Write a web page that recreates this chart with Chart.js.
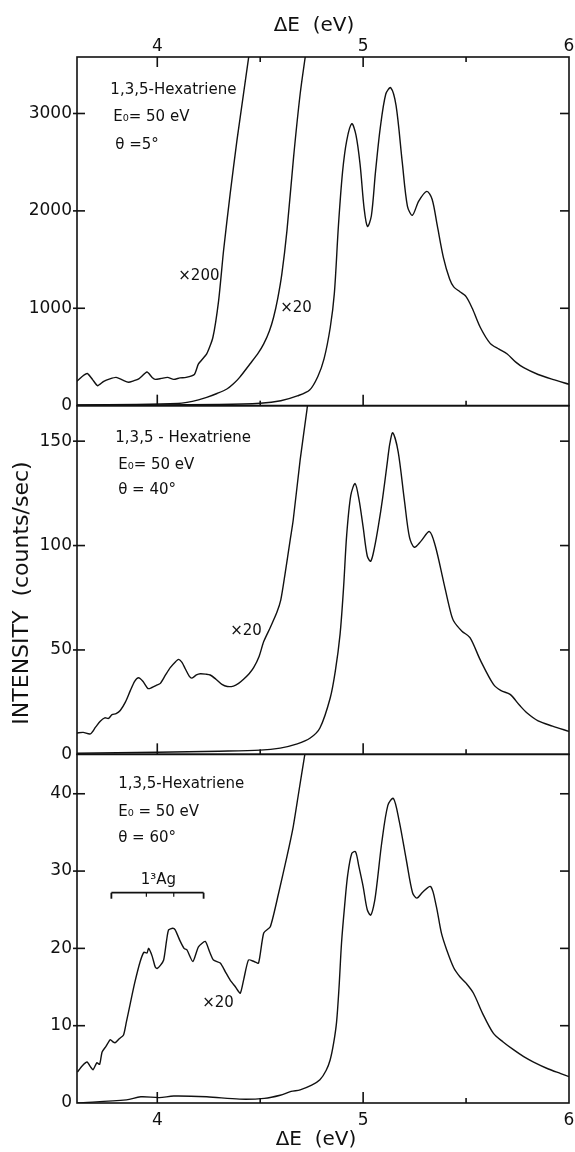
<!DOCTYPE html>
<html><head><meta charset="utf-8">
<script src="https://cdn.jsdelivr.net/npm/chart.js@4/dist/chart.umd.min.js"></script>
<style>html,body{margin:0;padding:0;background:#fff}canvas{display:block}</style>
</head><body>
<canvas id="c" width="575" height="1152"></canvas>
<script>
// ---------- data (energy loss in eV, intensity in counts/sec) ----------
const xMin = 3.61, xMax = 6.0;
const xTickValues = [4, 4.5, 5, 5.5, 6];
const xTickLabels = ['4', '', '5', '', '6'];
const majorTickE = [4, 5];
const minorTickE = [4.5, 5.5];

// top panel: theta = 5 deg
const topMax = 3580;
const topYTicks = [0, 1000, 2000, 3000];
const topMainE = [3.61, 4.0, 4.3, 4.5, 4.6, 4.68, 4.74, 4.78, 4.81, 4.84, 4.86, 4.88, 4.90, 4.92, 4.945, 4.965, 4.985, 5.005, 5.021, 5.04, 5.06, 5.083, 5.11, 5.134, 5.16, 5.19, 5.215, 5.239, 5.27, 5.309, 5.335, 5.36, 5.39, 5.42, 5.44, 5.47, 5.50, 5.53, 5.57, 5.617, 5.66, 5.70, 5.74, 5.78, 5.85, 5.92, 6.0];
const topMainI = [5, 8, 12, 25, 50, 100, 160, 300, 480, 800, 1150, 1850, 2400, 2720, 2895, 2780, 2480, 2020, 1840, 1950, 2400, 2850, 3200, 3265, 3080, 2500, 2050, 1955, 2100, 2200, 2120, 1850, 1520, 1300, 1220, 1170, 1120, 1000, 800, 640, 580, 530, 450, 390, 320, 270, 220];
const topX20E = [3.61, 3.9, 4.1, 4.144, 4.2, 4.24, 4.29, 4.338, 4.37, 4.40, 4.45, 4.49, 4.517, 4.545, 4.565, 4.585, 4.605, 4.63, 4.662, 4.694, 4.72, 4.74];
const topX20I = [8, 12, 22, 34, 60, 85, 125, 171, 225, 291, 428, 540, 634, 770, 908, 1100, 1350, 1800, 2550, 3200, 3600, 3900];
const topX200E = [3.61, 3.635, 3.66, 3.685, 3.71, 3.74, 3.77, 3.80, 3.83, 3.86, 3.885, 3.91, 3.95, 3.975, 3.99, 4.02, 4.05, 4.08, 4.11, 4.14, 4.18, 4.20, 4.24, 4.27, 4.298, 4.322, 4.354, 4.387, 4.419, 4.443, 4.46];
const topX200I = [250, 300, 330, 270, 205, 250, 275, 290, 265, 240, 255, 275, 345, 290, 270, 280, 290, 270, 285, 290, 320, 428, 531, 700, 1079, 1593, 2175, 2724, 3203, 3563, 3800];

// middle panel: theta = 40 deg
const midMax = 167;
const midYTicks = [0, 50, 100, 150];
const midMainE = [3.61, 4.0, 4.3, 4.5, 4.597, 4.68, 4.743, 4.79, 4.84, 4.865, 4.888, 4.905, 4.92, 4.94, 4.961, 4.98, 5.0, 5.02, 5.037, 5.055, 5.075, 5.095, 5.115, 5.13, 5.144, 5.17, 5.2, 5.225, 5.249, 5.28, 5.322, 5.35, 5.39, 5.42, 5.439, 5.48, 5.519, 5.57, 5.633, 5.67, 5.714, 5.76, 5.795, 5.85, 5.92, 6.0];
const midMainI = [0.5, 1, 1.5, 2, 3, 5, 7.8, 12.6, 27, 40, 57.6, 80, 105, 124, 129.7, 122, 108.8, 95, 92.5, 99, 110, 123, 138, 149, 154, 145, 122, 104, 99.2, 102, 106.7, 100, 83, 70, 64, 59, 55.9, 45, 33.5, 30.5, 28.7, 23.5, 19.9, 16, 13.5, 11];
const midX20E = [3.61, 3.64, 3.675, 3.70, 3.723, 3.745, 3.763, 3.78, 3.80, 3.82, 3.845, 3.869, 3.89, 3.909, 3.93, 3.955, 3.974, 3.995, 4.015, 4.04, 4.063, 4.09, 4.104, 4.12, 4.136, 4.155, 4.168, 4.19, 4.209, 4.235, 4.257, 4.285, 4.314, 4.34, 4.37, 4.395, 4.419, 4.445, 4.468, 4.495, 4.517, 4.55, 4.581, 4.60, 4.62, 4.646, 4.66, 4.694, 4.727, 4.745];
const midX20I = [10.2, 10.5, 9.8, 13, 15.9, 17.5, 17.2, 19, 19.5, 21, 25, 30.5, 35, 36.7, 35, 31.5, 32, 33, 34, 38, 41.5, 44.5, 45.5, 44, 41, 37.5, 36.5, 38, 38.6, 38.4, 38, 36, 33.5, 32.5, 32.7, 34, 36, 38.5, 41.5, 47, 54, 61, 68, 74, 86, 103, 112, 141, 165, 180];

// bottom panel: theta = 60 deg
const botMax = 45.1;
const botYTicks = [0, 10, 20, 30, 40];
const botMainE = [3.61, 3.85, 3.92, 4.01, 4.08, 4.24, 4.40, 4.52, 4.597, 4.65, 4.694, 4.75, 4.79, 4.82, 4.84, 4.857, 4.871, 4.883, 4.895, 4.91, 4.925, 4.945, 4.963, 4.98, 5.0, 5.02, 5.037, 5.055, 5.07, 5.09, 5.12, 5.147, 5.175, 5.21, 5.24, 5.261, 5.29, 5.328, 5.355, 5.38, 5.406, 5.44, 5.471, 5.50, 5.536, 5.58, 5.633, 5.68, 5.73, 5.78, 5.828, 5.9, 5.96, 6.0];
const botMainI = [0, 0.4, 0.8, 0.7, 0.9, 0.8, 0.5, 0.6, 1.0, 1.5, 1.7, 2.3, 3, 4.2, 5.6, 7.8, 10.5, 15, 20.7, 25.5, 29.5, 32.3, 32.5, 30.5, 28, 25, 24.3, 26, 29, 33.6, 38.5, 39.4, 36.5, 31.4, 27.2, 26.5, 27.3, 28, 25.5, 22, 19.8, 17.5, 16.3, 15.5, 14.2, 11.6, 9, 7.9, 6.9, 6, 5.3, 4.4, 3.8, 3.4];
const botX20E = [3.612, 3.635, 3.659, 3.675, 3.688, 3.70, 3.707, 3.72, 3.732, 3.75, 3.772, 3.785, 3.796, 3.815, 3.836, 3.85, 3.869, 3.89, 3.917, 3.935, 3.95, 3.958, 3.975, 3.99, 3.999, 4.015, 4.031, 4.045, 4.055, 4.075, 4.087, 4.11, 4.13, 4.144, 4.173, 4.2, 4.233, 4.255, 4.273, 4.306, 4.33, 4.354, 4.38, 4.403, 4.42, 4.443, 4.47, 4.492, 4.517, 4.549, 4.589, 4.63, 4.66, 4.686, 4.715, 4.73];
const botX20I = [4.0, 4.8, 5.3, 4.7, 4.3, 4.9, 5.2, 5.0, 6.6, 7.3, 8.2, 7.9, 7.8, 8.3, 8.8, 10.5, 12.9, 15.5, 18.3, 19.5, 19.4, 20, 19, 17.6, 17.4, 17.8, 18.5, 21, 22.4, 22.6, 22.4, 21, 20, 19.8, 18.3, 20.2, 20.9, 19.5, 18.5, 18.1, 17, 15.9, 15, 14.2, 16, 18.5, 18.3, 18.1, 22, 22.8, 27.1, 31.9, 35.7, 40, 44.8, 47];

// 1^3Ag bracket (energy range and level in bottom-panel units)
const agBracketE = [3.777, 3.947, 4.08, 4.225];
const agBracketLevel = 27.2;

// ---------- chart ----------
const pts = (E, I) => E.map((e, i) => ({x: e, y: I[i]}));
const INK = '#111';
Chart.defaults.font.family = "'DejaVu Sans', sans-serif";
Chart.defaults.color = INK;

function line(E, I, axis, tension) {
  return {data: pts(E, I), yAxisID: axis, xAxisID: 'x', borderColor: INK, borderWidth: 1.4,
          pointRadius: 0, fill: false, tension: tension};
}

const panelClip = {
  id: 'panelClip',
  beforeDatasetDraw(chart, args) {
    const ys = args.meta.yScale, ca = chart.chartArea, ctx = chart.ctx;
    ctx.save();
    ctx.beginPath();
    ctx.rect(ca.left, ys.top, ca.right - ca.left, ys.bottom - ys.top);
    ctx.clip();
  },
  afterDatasetDraw(chart) { chart.ctx.restore(); }
};

const decor = {
  id: 'decor',
  afterDraw(chart) {
    const ctx = chart.ctx, ca = chart.chartArea, xs = chart.scales.x;
    const seg = (x1, y1, x2, y2) => { ctx.beginPath(); ctx.moveTo(x1, y1); ctx.lineTo(x2, y2); ctx.stroke(); };
    ctx.save();
    ctx.strokeStyle = INK; ctx.fillStyle = INK; ctx.lineWidth = 1.6;
    ['yT', 'yM', 'yB'].forEach(id => {
      const s = chart.scales[id];
      ctx.strokeRect(ca.left, s.top, ca.right - ca.left, s.bottom - s.top);
      s.ticks.forEach(t => {
        const y = s.getPixelForValue(t.value);
        if (Math.abs(y - s.bottom) < 1) return;
        seg(ca.left - 4, y, ca.left + 8, y);
        seg(ca.right - 9, y, ca.right, y);
      });
      majorTickE.forEach(e => { const x = xs.getPixelForValue(e); seg(x, s.bottom, x, s.bottom - 11); });
      minorTickE.forEach(e => { const x = xs.getPixelForValue(e); seg(x, s.bottom, x, s.bottom - 5); });
    });
    const top = chart.scales.yT.top;
    majorTickE.forEach(e => { const x = xs.getPixelForValue(e); seg(x, top, x, top + 10); });
    minorTickE.forEach(e => { const x = xs.getPixelForValue(e); seg(x, top, x, top + 5); });

    // 1^3Ag bracket
    const yB = chart.scales.yB;
    const by = yB.getPixelForValue(agBracketLevel);
    const bx = agBracketE.map(e => xs.getPixelForValue(e));
    ctx.lineWidth = 1.8;
    seg(bx[0], by, bx[3], by);
    seg(bx[0], by, bx[0], by + 6);
    seg(bx[3], by, bx[3], by + 6);
    ctx.lineWidth = 1.2;
    seg(bx[1], by, bx[1], by + 4);
    seg(bx[2], by, bx[2], by + 4);

    // annotations in data coordinates
    const txt = (s, e, v, axis, size, align) => {
      ctx.font = size + "px 'DejaVu Sans', sans-serif";
      ctx.textAlign = align || 'left'; ctx.textBaseline = 'middle';
      ctx.fillText(s, xs.getPixelForValue(e), chart.scales[axis].getPixelForValue(v));
    };
    txt('1,3,5-Hexatriene', 3.772, 3237, 'yT', 15);
    txt('E\u2080= 50 eV', 3.786, 2960, 'yT', 15);
    txt('\u03b8 =5\u00b0', 3.796, 2672, 'yT', 15);
    txt('\u00d7200', 4.102, 1326, 'yT', 15);
    txt('\u00d720', 4.597, 997, 'yT', 15);
    txt('1,3,5 - Hexatriene', 3.796, 151.4, 'yM', 15);
    txt('E\u2080= 50 eV', 3.81, 138.5, 'yM', 15);
    txt('\u03b8 = 40\u00b0', 3.81, 126.4, 'yM', 15);
    txt('\u00d720', 4.354, 59.1, 'yM', 15);
    txt('1,3,5-Hexatriene', 3.81, 41.3, 'yB', 15);
    txt('E\u2080 = 50 eV', 3.81, 37.6, 'yB', 15);
    txt('\u03b8 = 60\u00b0', 3.81, 34.3, 'yB', 15);
    txt('\u00d720', 4.218, 12.9, 'yB', 15);
    txt('1\u00b3Ag', 4.005, 28.85, 'yB', 15, 'center');

    // axis titles
    ctx.font = "20px 'DejaVu Sans', sans-serif";
    ctx.textAlign = 'center'; ctx.textBaseline = 'middle';
    ctx.fillText('\u0394E  (eV)', 314, 26);
    ctx.fillText('\u0394E  (eV)', 316, 1140);
    ctx.save();
    ctx.translate(22, 593); ctx.rotate(-Math.PI / 2);
    ctx.font = "22px 'DejaVu Sans', sans-serif";
    ctx.fillText('INTENSITY  (counts/sec)', 0, 0);
    ctx.restore();
    ctx.restore();
  }
};

function yAxis(max, ticks) {
  return {
    type: 'linear', position: 'left', stack: 'panels', stackWeight: 1,
    min: 0, max: max, afterFit: s => { s.width = 77; s.paddingTop = 0; s.paddingBottom = 0; },
    afterBuildTicks: s => { s.ticks = ticks.map(v => ({value: v})); },
    grid: {display: false, drawTicks: false}, border: {display: false},
    ticks: {font: {size: 17}, padding: 5, color: INK, includeBounds: false, callback: v => String(v)}
  };
}
function xAxis(pos, h, pad) {
  return {
    type: 'linear', position: pos, min: xMin, max: xMax,
    afterFit: s => { s.height = h; s.paddingLeft = 0; s.paddingRight = 0; },
    afterBuildTicks: s => { s.ticks = xTickValues.map(v => ({value: v})); },
    grid: {display: false, drawTicks: false}, border: {display: false},
    ticks: {font: {size: 17}, padding: pad, color: INK, maxRotation: 0, autoSkip: false,
            callback: (v) => { const i = xTickValues.indexOf(v); return i >= 0 ? xTickLabels[i] : ''; }}
  };
}

new Chart(document.getElementById('c'), {
  type: 'line',
  data: {datasets: [
    line(topMainE, topMainI, 'yT', 0.3),
    line(topX20E, topX20I, 'yT', 0.3),
    line(topX200E, topX200I, 'yT', 0.2),
    line(midMainE, midMainI, 'yM', 0.3),
    line(midX20E, midX20I, 'yM', 0.25),
    line(botMainE, botMainI, 'yB', 0.3),
    line(botX20E, botX20I, 'yB', 0.2)
  ]},
  options: {
    responsive: false, animation: false, devicePixelRatio: 1,
    layout: {padding: {left: 0, right: 6, top: 0, bottom: 0}},
    plugins: {legend: {display: false}, tooltip: {enabled: false}},
    scales: {
      x: xAxis('bottom', 49, 7),
      x2: xAxis('top', 57, 0),
      yB: yAxis(botMax, botYTicks),
      yM: yAxis(midMax, midYTicks),
      yT: yAxis(topMax, topYTicks)
    }
  },
  plugins: [panelClip, decor]
});
</script>
</body></html>
